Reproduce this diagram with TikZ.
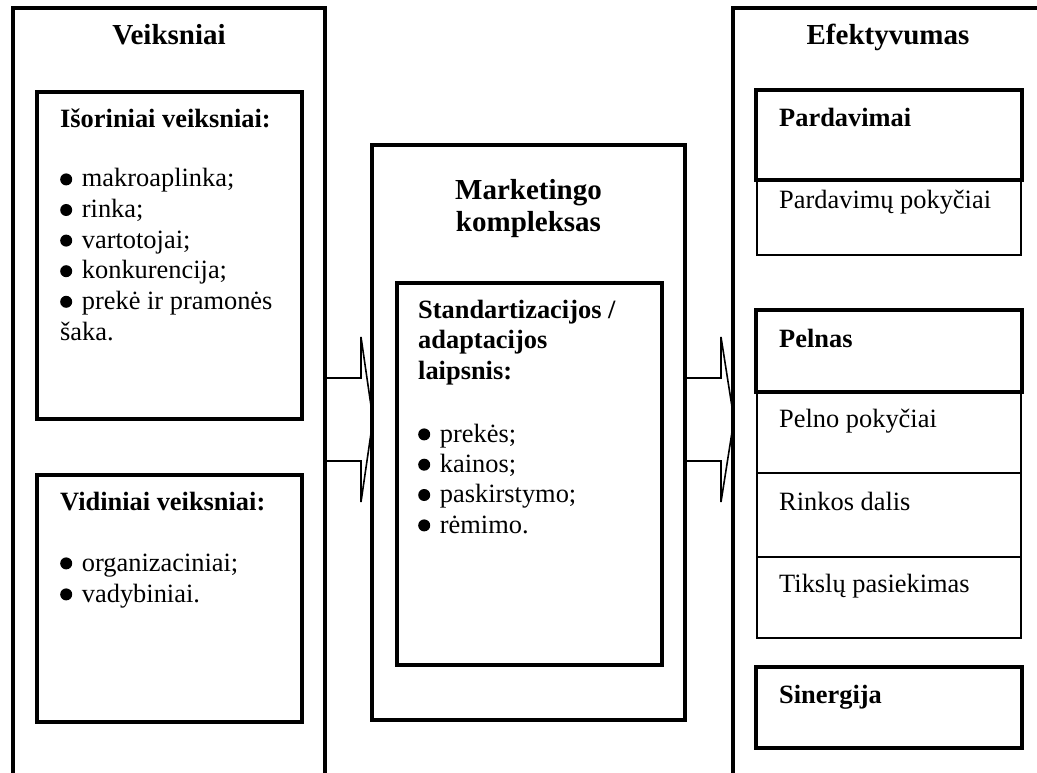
\documentclass[tikz,border=0pt]{standalone}
\usepackage{fontspec}
\setmainfont{Liberation Serif}
\usetikzlibrary{fit,calc}
% round black bullet followed by a fixed gap, like a tab stop
\newcommand\bul{\makebox[21.7pt][l]{\tikz[baseline=0pt]\fill (6pt,7.6pt) circle[radius=6pt];}}
\begin{document}
\begin{tikzpicture}[x=1pt,y=-1pt,
  outerbox/.style={draw,line width=4pt,inner sep=0pt},
  innerbox/.style={draw,line width=3.5pt,inner sep=0pt},
  cellbox/.style={draw,line width=2pt,inner sep=0pt},
  blockarrow/.style={draw,line width=1.6pt,line join=miter},
  head/.style={font=\fontsize{29}{31}\selectfont\bfseries,inner sep=0pt,anchor=base},
  sub/.style={font=\fontsize{26.4}{29}\selectfont\bfseries,inner sep=0pt,anchor=base west},
  item/.style={font=\fontsize{26.4}{29}\selectfont,inner sep=0pt,anchor=base west},
]
\clip (0,0) rectangle (1037,773);

% the three column frames
\node[outerbox, fit={(13,8)(325,800)}] (lo) {};
\node[outerbox, fit={(372,145)(685,720)}] (mo) {};
\node[outerbox, fit={(733,8)(1060,800)}] (ro) {};

% block arrows between the columns
\draw[blockarrow] (lo.east |- 0,378) -- (361,378) -- (361,337)
  -- ($(mo.west |- 0,419.5)+(3,0)$) -- (361,502) -- (361,461) -- (lo.east |- 0,461);
\draw[blockarrow] (mo.east |- 0,378) -- (721,378) -- (721,337)
  -- ($(ro.west |- 0,419.5)+(3,0)$) -- (721,502) -- (721,461) -- (mo.east |- 0,461);

% left column
\node[innerbox, fit={(37,92)(302,419)}] (isor) {};
\node[innerbox, fit={(37,475)(302,722)}] (vid) {};
\node[head] (t-veik) at (169,45) {Veiksniai};
\node[sub] (t-isor) at (60,128) {Išoriniai veiksniai:};
\node[item] (i1) at (60,187) {\bul makroaplinka;};
\node[item] (i2) at (60,217.6) {\bul rinka;};
\node[item] (i3) at (60,248.2) {\bul vartotojai;};
\node[item] (i4) at (60,278.8) {\bul konkurencija;};
\node[item] (i5) at (60,309.4) {\bul prekė ir pramonės};
\node[item] (i6) at (60,340) {šaka.};
\node[sub] (t-vid) at (60,510) {Vidiniai veiksniai:};
\node[item] (v1) at (60,571) {\bul organizaciniai;};
\node[item] (v2) at (60,602) {\bul vadybiniai.};

% middle column
\node[innerbox, fit={(397,283)(662,665)}] (std) {};
\node[head] (t-mk1) at (528.5,200) {Marketingo};
\node[head] (t-mk2) at (528.5,231) {kompleksas};
\node[sub] (s1) at (418,318) {Standartizacijos /};
\node[sub] (s2) at (418,348.5) {adaptacijos};
\node[sub] (s3) at (418,379) {laipsnis:};
\node[item] (m1) at (418,442) {\bul prekės;};
\node[item] (m2) at (418,472.3) {\bul kainos;};
\node[item] (m3) at (418,502.6) {\bul paskirstymo;};
\node[item] (m4) at (418,533) {\bul rėmimo.};

% right column: thin cells first, thick headers on top
\node[cellbox, fit={(757,180)(1021,255)}] (c-pp) {};
\node[cellbox, fit={(757,392)(1021,473)}] (c-pel) {};
\node[cellbox, fit={(757,473)(1021,557)}] (c-rd) {};
\node[cellbox, fit={(757,557)(1021,638)}] (c-tp) {};
\node[innerbox, fit={(756,90)(1022,180)}] (h-pard) {};
\node[innerbox, fit={(756,310)(1022,392)}] (h-peln) {};
\node[innerbox, fit={(756,667)(1022,748)}] (h-sin) {};
\node[head] (t-ef) at (888,45) {Efektyvumas};
\node[sub] (t-pard) at (779,127) {Pardavimai};
\node[item] (t-pp) at (779,208) {Pardavimų pokyčiai};
\node[sub] (t-peln) at (779,347) {Pelnas};
\node[item] (t-pel) at (779,427) {Pelno pokyčiai};
\node[item] (t-rd) at (779,510) {Rinkos dalis};
\node[item] (t-tp) at (779,592) {Tikslų pasiekimas};
\node[sub] (t-sin) at (779,703) {Sinergija};
\end{tikzpicture}
\end{document}
